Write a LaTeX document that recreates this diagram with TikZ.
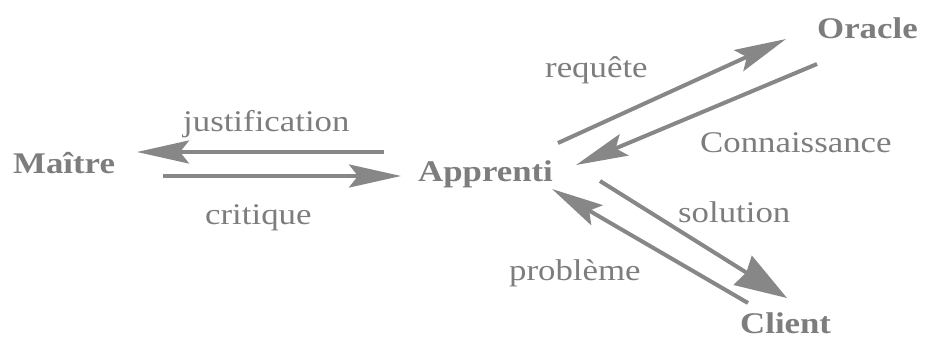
\documentclass[tikz,border=0pt]{standalone}
\usepackage{fontspec}
\setmainfont{Liberation Serif}[FakeStretch=1.16]
\usetikzlibrary{arrows.meta}
\definecolor{ink}{RGB}{125,125,125}
\definecolor{arr}{RGB}{135,135,135}
\begin{document}
\begin{tikzpicture}[x=1pt,y=-1pt,
  lbl/.style={anchor=base west,inner sep=0pt,text=ink,font=\fontsize{30}{30}\selectfont},
  actor/.style={lbl,font=\fontsize{30}{30}\selectfont\bfseries},
  flow/.style={draw=arr,line width=4pt,-{Stealth[length=52pt,width=23pt,inset=9pt]}},
  bigflow/.style={draw=arr,line width=4pt,-{Stealth[length=52pt,width=34pt,inset=4pt]}}]
\useasboundingbox (0,0) rectangle (925,340);
% actors
\node[actor] (maitre) at (13,173) {Maître};
\node[actor] (apprenti) at (418,181) {Apprenti};
\node[actor] (oracle) at (817,38) {Oracle};
\node[actor] (client) at (740,333) {Client};
% labels
\node[lbl] (justif) at (183,131) {justification};
\node[lbl] (critique) at (205,224) {critique};
\node[lbl] (requete) at (545,77) {requête};
\node[lbl] (connais) at (700,152) {Connaissance};
\node[lbl] (solution) at (678,222) {solution};
\node[lbl] (probleme) at (509,280) {problème};
% connector ends
\coordinate (j1) at (384,152); \coordinate (j2) at (137,152);
\coordinate (c1) at (163,176); \coordinate (c2) at (401,176);
\coordinate (r1) at (558,143); \coordinate (r2) at (786,39);
\coordinate (k1) at (817,64);  \coordinate (k2) at (576,165);
\coordinate (s1) at (600,181); \coordinate (s2) at (787,298);
\coordinate (p1) at (748,303); \coordinate (p2) at (552,189);
% connectors
\draw[flow] (j1) -- (j2);
\draw[flow] (c1) -- (c2);
\draw[flow] (r1) -- (r2);
\draw[flow] (k1) -- (k2);
\draw[bigflow] (s1) -- (s2);
\draw[flow] (p1) -- (p2);
\end{tikzpicture}
\end{document}
